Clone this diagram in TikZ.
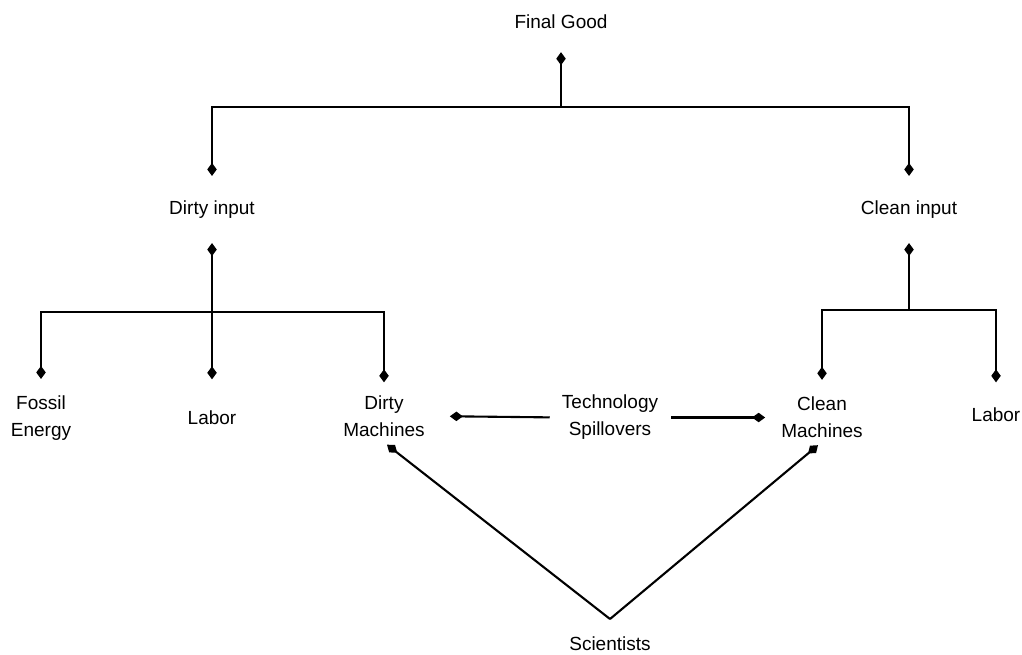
\documentclass[tikz,border=0pt]{standalone}
\usepackage{fontspec}
\setmainfont{Liberation Sans}
\usetikzlibrary{arrows.meta}

\tikzset{
  lbl/.style={inner sep=0pt, align=center, font=\fontsize{19}{27}\selectfont},
  link/.style={line width=2.1pt, -{Diamond[length=13pt,width=9.5pt]}}
}

\begin{document}
\begin{tikzpicture}[x=1pt, y=-1pt]

	\useasboundingbox (0,0) rectangle (1022,654);

	% Nodes
	\node[lbl] (fg) at (561,22) {Final Good};
	\node[lbl] (di) at (212,210) {Dirty input};
	\node[lbl] (ci) at (909,210) {Clean input};
	\node[lbl] (fe) at (41,418.5) {Fossil\\Energy};
	\node[lbl] (labl) at (212,417.5) {Labor};
	\node[lbl] (dm) at (384,416) {Dirty\\Machines};
	\node[lbl] (ts) at (610,417.5) {Technology\\Spillovers};
	\node[lbl] (cm) at (822,417.5) {Clean\\Machines};
	\node[lbl] (labr) at (996,414.5) {Labor};
	\node[lbl] (sci) at (610,644) {Scientists};

	% Junctions
	\coordinate (jtop) at (561,107);
	\coordinate (jdirty) at (212,312);
	\coordinate (jclean) at (909,310);
	\coordinate (apex) at (610,619);

	% Top level
	\draw[link, shorten >=23pt] (jtop) -- (fg);
	\draw[link, shorten >=25pt] (jtop) -| (di);
	\draw[link, shorten >=25pt] (jtop) -| (ci);

	% Dirty branch
	\draw[link, shorten >=24pt] (jdirty) -- (di);
	\draw[link, shorten >=17pt] (jdirty) -| (fe);
	\draw[link, shorten >=31pt] (jdirty) -- (labl);
	\draw[link, shorten >=13pt] (jdirty) -| (dm);

	% Clean branch
	\draw[link, shorten >=24pt] (jclean) -- (ci);
	\draw[link, shorten >=17pt] (jclean) -| (cm);
	\draw[link, shorten >=25pt] (jclean) -| (labr);

	% Spillovers
	\draw[link, shorten <=12pt, shorten >=25pt] (ts.west) -- (dm.east);
	\draw[link, shorten <=13pt, shorten >=16pt] (ts.east) -- (cm.west);

	% Scientists
	\draw[link] (apex) -- ([xshift=3pt, yshift=-8pt]dm.south);
	\draw[link] (apex) -- ([xshift=-4pt, yshift=-7pt]cm.south);

\end{tikzpicture}
\end{document}
